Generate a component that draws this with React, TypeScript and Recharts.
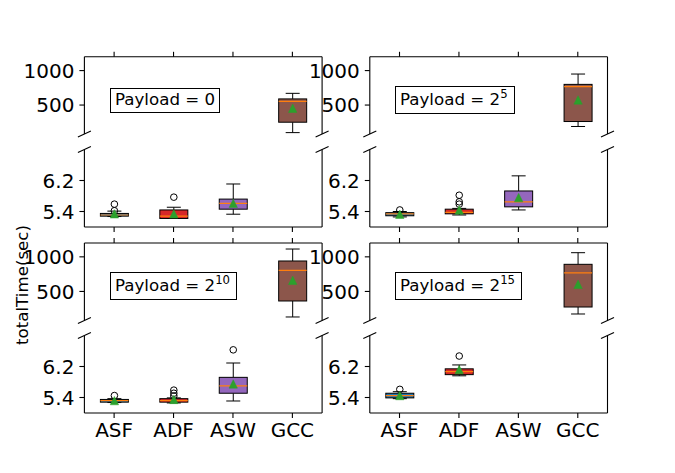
import React from 'react';
import { ComposedChart, Bar, XAxis, YAxis } from 'recharts';

const W = 675;
const H = 473;
const FONT = 'DejaVu Sans, Verdana, sans-serif';

const categories = ['ASF', 'ADF', 'ASW', 'GCC'];
const boxColors = ['#1f77b4', '#d62728', '#9467bd', '#8c564b'];
const topTicks = [500, 1000];
const bottomTicks = [5.4, 6.2];
const topDomain = [80, 1200];
const bottomDomain = [5.0, 7.0];

// Payload = 0
const p0WhiskerLow = [5.27, 5.22, 5.33, 100];
const p0Q1 = [5.28, 5.22, 5.46, 251];
const p0Median = [5.31, 5.28, 5.61, 554];
const p0Q3 = [5.35, 5.44, 5.72, 589];
const p0WhiskerHigh = [5.41, 5.51, 6.11, 670];
const p0Mean = [5.34, 5.34, 5.61, 453];
const p0Outliers = [[5.42, 5.59], [5.77], [], []];

// Payload = 2^5
const p5WhiskerLow = [5.26, 5.31, 5.44, 189];
const p5Q1 = [5.29, 5.34, 5.52, 261];
const p5Median = [5.34, 5.38, 5.65, 766];
const p5Q3 = [5.37, 5.46, 5.93, 800];
const p5WhiskerHigh = [5.4, 5.48, 6.32, 950];
const p5Mean = [5.33, 5.44, 5.76, 574];
const p5Outliers = [[5.44], [5.59, 5.65, 5.82], [], []];

// Payload = 2^10
const p10WhiskerLow = [5.27, 5.26, 5.31, 131];
const p10Q1 = [5.28, 5.28, 5.51, 362];
const p10Median = [5.32, 5.32, 5.7, 805];
const p10Q3 = [5.35, 5.37, 5.92, 940];
const p10WhiskerHigh = [5.37, 5.39, 6.29, 1113];
const p10Mean = [5.32, 5.35, 5.75, 661];
const p10Outliers = [[5.45], [5.44, 5.51, 5.59], [6.63], []];

// Payload = 2^15
const p15WhiskerLow = [5.37, 5.96, null, 174];
const p15Q1 = [5.39, 5.99, null, 275];
const p15Median = [5.45, 6.07, null, 767];
const p15Q3 = [5.51, 6.14, null, 892];
const p15WhiskerHigh = [5.55, 6.24, null, 1060];
const p15Mean = [5.45, 6.12, null, 603];
const p15Outliers = [[5.61], [6.47], [], []];

const payloadExponents = [null, '5', '10', '15'];

type Stats = {
  low: (number | null)[];
  q1: (number | null)[];
  med: (number | null)[];
  q3: (number | null)[];
  high: (number | null)[];
  mean: (number | null)[];
  out: number[][];
};

const panels: Stats[] = [
  { low: p0WhiskerLow, q1: p0Q1, med: p0Median, q3: p0Q3, high: p0WhiskerHigh, mean: p0Mean, out: p0Outliers },
  { low: p5WhiskerLow, q1: p5Q1, med: p5Median, q3: p5Q3, high: p5WhiskerHigh, mean: p5Mean, out: p5Outliers },
  { low: p10WhiskerLow, q1: p10Q1, med: p10Median, q3: p10Q3, high: p10WhiskerHigh, mean: p10Mean, out: p10Outliers },
  { low: p15WhiskerLow, q1: p15Q1, med: p15Median, q3: p15Q3, high: p15WhiskerHigh, mean: p15Mean, out: p15Outliers },
];

// layout (figure pixels)
const colX = [
  [84.4, 322.1],
  [369.8, 607.5],
];
const rowY = [
  { top: [56.8, 134], bottom: [149.5, 227] },
  { top: [243, 320.5], bottom: [335.5, 413] },
];

function buildRows(p: Stats, part: 'top' | 'bottom') {
  return categories.map((cat, i) => {
    const high = p.high[i];
    const inPart = high != null && (part === 'top' ? high > 50 : high < 50);
    if (!inPart) return { cat, range: null };
    const vals = [p.low[i] as number, p.high[i] as number, ...p.out[i]];
    return {
      cat,
      range: [Math.min(...vals), Math.max(...vals)],
      low: p.low[i],
      q1: p.q1[i],
      med: p.med[i],
      q3: p.q3[i],
      high: p.high[i],
      mean: p.mean[i],
      out: p.out[i],
      color: boxColors[i],
    };
  });
}

const BoxShape = (props: any) => {
  const { x, y, width, height, payload } = props;
  if (!payload || !payload.range) return <g />;
  const [lo, hi] = payload.range;
  const t = Math.min(y, y + height);
  const b = Math.max(y, y + height);
  const py = (v: number) => (hi === lo ? t : t + ((hi - v) / (hi - lo)) * (b - t));
  const cx = x + width / 2;
  const bw = 28;
  const cw = 14;
  const yq1 = py(payload.q1);
  const yq3 = py(payload.q3);
  const ym = py(payload.mean);
  const tri = 4.2;
  return (
    <g>
      <line x1={cx} x2={cx} y1={yq3} y2={py(payload.high)} stroke="#000" strokeWidth={1} />
      <line x1={cx} x2={cx} y1={yq1} y2={py(payload.low)} stroke="#000" strokeWidth={1} />
      <line x1={cx - cw / 2} x2={cx + cw / 2} y1={py(payload.high)} y2={py(payload.high)} stroke="#000" strokeWidth={1} />
      <line x1={cx - cw / 2} x2={cx + cw / 2} y1={py(payload.low)} y2={py(payload.low)} stroke="#000" strokeWidth={1} />
      <rect x={cx - bw / 2} y={yq3} width={bw} height={Math.max(yq1 - yq3, 0.5)} fill={payload.color} stroke="#000" strokeWidth={1} />
      <line x1={cx - bw / 2} x2={cx + bw / 2} y1={py(payload.med)} y2={py(payload.med)} stroke="#ff7f0e" strokeWidth={1.2} />
      {payload.out.map((v: number, k: number) => (
        <circle key={k} cx={cx} cy={py(v)} r={3.3} fill="none" stroke="#000" strokeWidth={1} />
      ))}
      <polygon
        points={`${cx},${ym - tri} ${cx - tri},${ym + tri} ${cx + tri},${ym + tri}`}
        fill="#2ca02c"
        stroke="#2ca02c"
        strokeWidth={0.5}
      />
    </g>
  );
};

const NoTick = () => <g />;

function SubPlot({ panel, col, row, part }: { panel: number; col: number; row: number; part: 'top' | 'bottom' }) {
  const [x0, x1] = colX[col];
  const [y0, y1] = rowY[row][part];
  const yAxisW = 60;
  const xAxisH = 30;
  const isTop = part === 'top';
  const margin = {
    left: x0 - yAxisW,
    right: W - x1 - 1,
    top: isTop ? y0 - xAxisH : y0,
    bottom: isTop ? H - y1 : H - y1 - xAxisH,
  };
  const data = buildRows(panels[panel], part);
  const domain = isTop ? topDomain : bottomDomain;
  const ticks = isTop ? topTicks : bottomTicks;
  const showLabels = !isTop && row === 1;
  return (
    <div style={{ position: 'absolute', left: 0, top: 0 }}>
      <ComposedChart width={W} height={H} data={data} margin={margin}>
        <XAxis
          dataKey="cat"
          orientation={isTop ? 'top' : 'bottom'}
          height={xAxisH}
          axisLine={{ stroke: '#000', strokeWidth: 1.1 }}
          tickLine={{ stroke: '#000', strokeWidth: 1.1 }}
          tickSize={5}
          tickMargin={5}
          interval={0}
          tick={showLabels ? { fontSize: 20, fill: '#000', fontFamily: FONT } : NoTick}
        />
        <YAxis
          yAxisId="l"
          type="number"
          domain={domain}
          ticks={ticks}
          allowDataOverflow
          width={yAxisW}
          axisLine={{ stroke: '#000', strokeWidth: 1.1 }}
          tickLine={{ stroke: '#000', strokeWidth: 1.1 }}
          tickSize={5}
          tickMargin={5}
          interval={0}
          tick={{ fontSize: 20, fill: '#000', fontFamily: FONT }}
        />
        <YAxis
          yAxisId="r"
          orientation="right"
          type="number"
          domain={domain}
          allowDataOverflow
          width={1}
          axisLine={{ stroke: '#000', strokeWidth: 1.1 }}
          tickLine={false}
          tick={false}
        />
        <Bar yAxisId="l" dataKey="range" barSize={28} shape={BoxShape} isAnimationActive={false} />
      </ComposedChart>
    </div>
  );
}

function BreakMarks() {
  const lines: JSX.Element[] = [];
  const dx = 6.5;
  const dy = 3;
  rowY.forEach((r, ri) => {
    colX.forEach((c, ci) => {
      [r.top[1], r.bottom[0]].forEach((yy, k) => {
        c.forEach((xx, j) => {
          lines.push(
            <line key={`${ri}-${ci}-${k}-${j}`} x1={xx - dx} y1={yy + dy} x2={xx + dx} y2={yy - dy} stroke="#000" strokeWidth={1.1} />
          );
        });
      });
    });
  });
  return <>{lines}</>;
}

const labelBoxes = [
  { left: 110, top: 88 },
  { left: 395, top: 86 },
  { left: 110, top: 272.3 },
  { left: 395, top: 272.3 },
];

export default function App() {
  const subplots: JSX.Element[] = [];
  [0, 1].forEach((row) => {
    [0, 1].forEach((col) => {
      const panel = row * 2 + col;
      subplots.push(<SubPlot key={`${panel}t`} panel={panel} col={col} row={row} part="top" />);
      subplots.push(<SubPlot key={`${panel}b`} panel={panel} col={col} row={row} part="bottom" />);
    });
  });
  return (
    <div style={{ position: 'absolute', left: 0, top: 0, width: W, height: H, background: '#fff', fontFamily: FONT }}>
      {subplots}
      <svg width={W} height={H} style={{ position: 'absolute', left: 0, top: 0 }}>
        <BreakMarks />
        <text
          transform="translate(22,285) rotate(-90)"
          textAnchor="middle"
          dominantBaseline="central"
          fontSize={16.67}
          fontFamily={FONT}
          fill="#000"
        >
          totalTime(sec)
        </text>
      </svg>
      {labelBoxes.map((b, i) => {
        const exp = payloadExponents[i];
        return (
          <div
            key={i}
            style={{
              position: 'absolute',
              left: b.left,
              top: b.top,
              border: '1px solid #000',
              background: '#fff',
              padding: exp == null ? '1px 4px 2px 4px' : '3px 6px 3px 4px',
              fontSize: 16.67,
              lineHeight: '20px',
              whiteSpace: 'nowrap',
              color: '#000',
            }}
          >
            Payload = {exp == null ? '0' : (
              <>
                2
                <sup style={{ fontSize: 11.7, verticalAlign: 'top', lineHeight: '12px', position: 'relative', top: -2 }}>{exp}</sup>
              </>
            )}
          </div>
        );
      })}
    </div>
  );
}
